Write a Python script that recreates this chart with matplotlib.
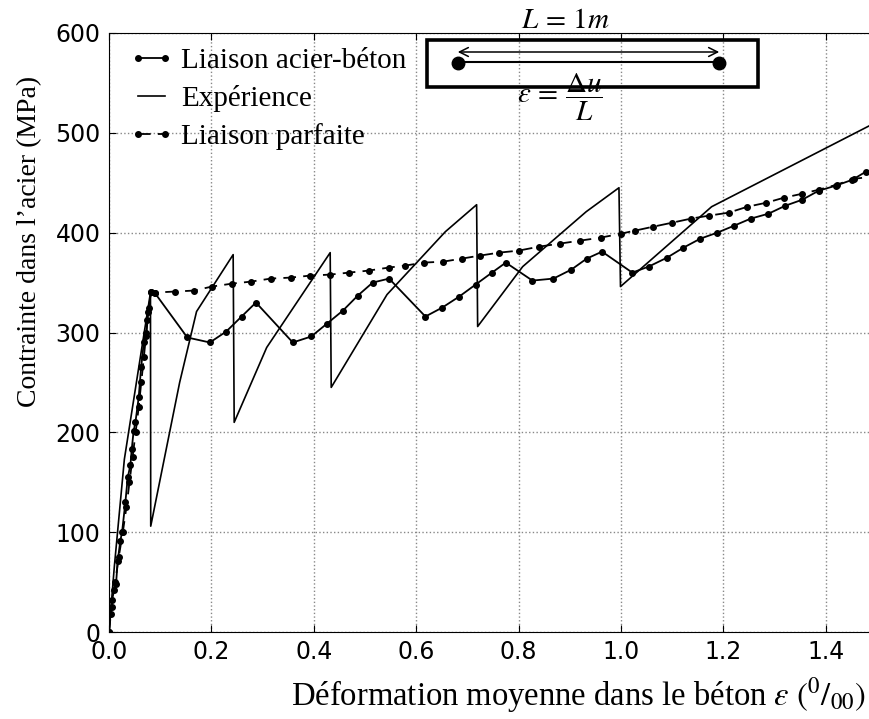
import matplotlib
matplotlib.use("Agg")
import matplotlib.pyplot as plt
from matplotlib.patches import Rectangle, FancyArrowPatch
from matplotlib.lines import Line2D

plt.rcParams["mathtext.fontset"] = "stix"

# Liaison acier-béton (trait plein + points)
acier_x = [0, 0.003, 0.006, 0.010, 0.0137, 0.017, 0.022, 0.0255, 0.032, 0.0366,
           0.0418, 0.0444, 0.048, 0.0516, 0.058, 0.0627, 0.068, 0.0725, 0.0745, 0.077,
           0.082, 0.089, 0.153, 0.197, 0.229, 0.259, 0.287, 0.359, 0.395, 0.426,
           0.457, 0.486, 0.515, 0.547, 0.618, 0.651, 0.684, 0.716, 0.748, 0.775,
           0.827, 0.868, 0.903, 0.933, 0.963, 1.022, 1.054, 1.09, 1.122, 1.155,
           1.188, 1.221, 1.253, 1.288, 1.321, 1.354, 1.386, 1.419, 1.452, 1.478]
acier_y = [0, 18, 32, 42, 48, 71, 91, 100, 130, 155,
           167, 183, 201, 210, 235, 265, 290, 296, 313, 321,
           341, 340, 295, 290, 301, 316, 330, 290, 296, 309,
           322, 337, 350, 354, 316, 325, 336, 348, 360, 370,
           352, 354, 363, 374, 381, 360, 366, 375, 385, 394,
           400, 407, 414, 419, 427, 433, 442, 447, 453, 461]

# Expérience (trait plein)
exp_x = [0, 0.0105, 0.030, 0.081, 0.0815, 0.138, 0.171, 0.2425, 0.2445, 0.308,
         0.432, 0.434, 0.543, 0.657, 0.718, 0.720, 0.808, 0.932, 0.996, 0.999,
         1.177, 1.5]
exp_y = [0, 66, 173, 340, 106, 250, 321, 378, 210, 285,
         380, 245, 338, 401, 428, 306, 366, 421, 445, 346,
         426, 511]

# Liaison parfaite (tirets + points)
parf_x = [0, 0.005, 0.012, 0.019, 0.027, 0.034, 0.040, 0.046, 0.052, 0.058,
          0.063, 0.068, 0.073, 0.078, 0.082, 0.089, 0.128, 0.166, 0.201, 0.241,
          0.278, 0.316, 0.355, 0.393, 0.432, 0.469, 0.507, 0.546, 0.578, 0.615,
          0.653, 0.689, 0.724, 0.762, 0.800, 0.840, 0.880, 0.920, 0.960, 1.000,
          1.027, 1.063, 1.100, 1.136, 1.171, 1.210, 1.247, 1.284, 1.318, 1.354,
          1.386, 1.421, 1.455, 1.491]
parf_y = [0, 25, 50, 75, 100, 125, 150, 175, 200, 225,
          250, 275, 300, 325, 341, 340, 341, 342, 346, 349,
          351, 354, 355, 357, 358, 360, 362, 365, 367, 370,
          371, 374, 377, 380, 382, 386, 389, 392, 395, 399,
          402, 406, 410, 414, 417, 420, 426, 430, 435, 439,
          443, 448, 454, 456]

x_ticks = [0.0, 0.2, 0.4, 0.6, 0.8, 1.0, 1.2, 1.4]
y_ticks = [0, 100, 200, 300, 400, 500, 600]

W, H = 870, 719
fig = plt.figure(figsize=(W / 100, H / 100), dpi=100)
ax = fig.add_axes([109 / W, (H - 632) / H, 768 / W, 599 / H])

ax.plot(acier_x, acier_y, "-", color="black", lw=1.3, marker="o", markersize=4,
        label="Liaison acier-béton")
ax.plot(exp_x, exp_y, "-", color="black", lw=1.2, label="Expérience")
ax.plot(parf_x, parf_y, "--", color="black", lw=1.3, marker="o", markersize=4,
        dashes=(7, 4), label="Liaison parfaite")

ax.set_xlim(0, 1.5)
ax.set_ylim(0, 600)
ax.set_xticks(x_ticks)
ax.set_yticks(y_ticks)
ax.tick_params(direction="in", top=True, right=True, labelsize=17, length=5, pad=6)
ax.grid(True, color="#888888", linestyle=":", lw=1)

leg = ax.legend(loc="upper left", frameon=False, numpoints=2,
                prop={"family": "Liberation Serif", "size": 21},
                handlelength=1.5, handletextpad=0.25, labelspacing=0.38,
                borderaxespad=0.1, bbox_to_anchor=(0.008, 1.0))

# étiquettes des axes (placées à la main)
fig.text(30 / W, 1 - 241 / H, "Contrainte dans l’acier (MPa)", rotation=90,
         ha="center", va="center", family="Liberation Serif", size=20)
fig.text(866 / W, 1 - 695 / H,
         r"Déformation moyenne dans le béton $\varepsilon$ $(^{0}/_{00})$",
         ha="right", va="center", family="Liberation Serif", size=23.5)

# schéma de l'éprouvette
fig.patches.append(Rectangle((427 / W, 1 - 87 / H), 331 / W, 47 / H,
                             transform=fig.transFigure, fill=False,
                             lw=2.6, edgecolor="black"))
fig.patches.append(FancyArrowPatch((455 / W, 1 - 52 / H), (722 / W, 1 - 52 / H),
                                   transform=fig.transFigure, arrowstyle="<->",
                                   mutation_scale=16, lw=1.1, color="black"))
fig.lines.append(Line2D([458 / W, 719 / W], [1 - 61.5 / H, 1 - 61.5 / H],
                        transform=fig.transFigure, lw=1.5, color="black"))
fig.lines.append(Line2D([458 / W, 719 / W], [1 - 63 / H, 1 - 63 / H],
                        transform=fig.transFigure, lw=0, marker="o",
                        markersize=9, color="black"))
fig.text(565 / W, 1 - 20 / H, r"$L\,=\,1m$", ha="center", va="center", size=21)
fig.text(560 / W, 1 - 97 / H, r"$\varepsilon\,=\,\dfrac{\Delta u}{L}$",
         ha="center", va="center", size=21)

fig.savefig("out.png", dpi=100)
